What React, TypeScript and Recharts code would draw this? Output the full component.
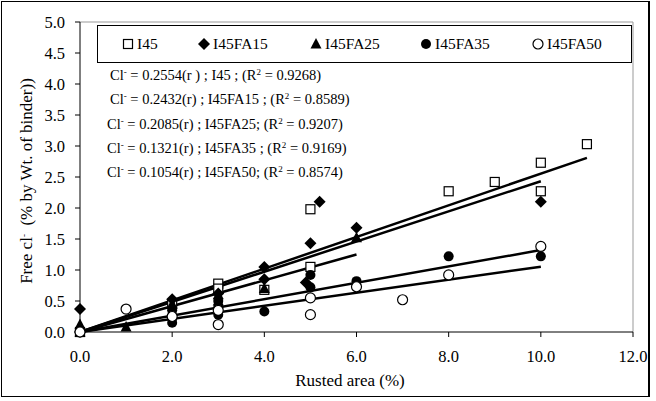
import React from "react";
import { ScatterChart, Scatter, XAxis, YAxis, ReferenceLine } from "recharts";

// series data (rusted area %, free chloride %)
const I45_X = [0, 2, 3, 3, 4, 5, 5, 8, 9, 10, 10, 11];
const I45_Y = [0, 0.45, 0.78, 0.7, 0.68, 1.98, 1.05, 2.27, 2.42, 2.73, 2.27, 3.03];

const FA15_X = [0, 0, 2, 3, 4, 4, 4.9, 5, 5.2, 6, 10];
const FA15_Y = [0.37, 0, 0.53, 0.62, 1.05, 0.85, 0.8, 1.43, 2.1, 1.68, 2.1];

const FA25_X = [0, 0, 1, 2, 2, 3, 3, 4, 6];
const FA25_Y = [0.12, 0, 0.08, 0.3, 0.45, 0.5, 0.6, 0.7, 1.52];

const FA35_X = [0, 2, 2, 2, 3, 3, 3, 4, 5, 5, 6, 8, 10];
const FA35_Y = [0, 0.15, 0.22, 0.35, 0.28, 0.4, 0.5, 0.33, 0.92, 0.72, 0.82, 1.22, 1.22];

const FA50_X = [0, 1, 2, 3, 3, 5, 5, 6, 7, 8, 10];
const FA50_Y = [0, 0.37, 0.25, 0.12, 0.35, 0.55, 0.28, 0.73, 0.52, 0.92, 1.38];

const SERIES_NAMES = ["I45", "I45FA15", "I45FA25", "I45FA35", "I45FA50"];
const SLOPES = [0.2554, 0.2432, 0.2085, 0.1321, 0.1054];
const FIT_END = [11, 10, 6, 10, 10];
const R2 = ["0.9268", "0.8589", "0.9207", "0.9169", "0.8574"];
const EQ_MID = [
  "(r ) ; I45 ; (R",
  "(r) ; I45FA15 ; (R",
  "(r) ; I45FA25; (R",
  "(r) ; I45FA35 ; (R",
  "(r) ; I45FA50; (R",
];

const X_TICKS = [0, 2, 4, 6, 8, 10, 12];
const Y_TICKS = [0, 0.5, 1, 1.5, 2, 2.5, 3, 3.5, 4, 4.5, 5];

const zip = (xs: number[], ys: number[]) => xs.map((x, i) => ({ x, y: ys[i] }));
const SERIES = [
  zip(I45_X, I45_Y),
  zip(FA15_X, FA15_Y),
  zip(FA25_X, FA25_Y),
  zip(FA35_X, FA35_Y),
  zip(FA50_X, FA50_Y),
];
const KINDS = ["square", "diamond", "triangle", "dot", "circle"];

const FONT = "Liberation Serif, DejaVu Serif, serif";

const Marker = ({ kind, cx, cy }: { kind: string; cx: number; cy: number }) => {
  if (kind === "square")
    return <rect x={cx - 4.5} y={cy - 4.5} width={9} height={9} fill="#fff" stroke="#000" strokeWidth={1.2} />;
  if (kind === "diamond")
    return <polygon points={`${cx},${cy - 6} ${cx + 6},${cy} ${cx},${cy + 6} ${cx - 6},${cy}`} fill="#000" />;
  if (kind === "triangle")
    return <polygon points={`${cx},${cy - 6} ${cx + 5.5},${cy + 4.5} ${cx - 5.5},${cy + 4.5}`} fill="#000" />;
  if (kind === "dot") return <circle cx={cx} cy={cy} r={5} fill="#000" />;
  return <circle cx={cx} cy={cy} r={5} fill="#fff" stroke="#000" strokeWidth={1.2} />;
};

// legend item left edges (page px)
const LEGEND_POS = [122, 198, 310, 420, 532];

export default function App() {
  const txt: React.CSSProperties = { position: "absolute", fontFamily: FONT, color: "#000", whiteSpace: "nowrap" };
  const sup: React.CSSProperties = { fontSize: 9, verticalAlign: 5, lineHeight: 0 };
  return (
    <div style={{ position: "absolute", left: 0, top: 0, width: 656, height: 401, background: "#fff" }}>
      <div style={{ position: "absolute", left: 1, top: 1, width: 646, height: 394, border: "1px solid #000", borderRightWidth: 2 }} />
      <div style={{ position: "absolute", left: 0, top: 0 }}>
        <ScatterChart width={656} height={401} margin={{ top: 22, right: 23, bottom: 0, left: 0 }}>
          <XAxis
            type="number"
            dataKey="x"
            domain={[0, 12]}
            ticks={X_TICKS}
            tickFormatter={(v: number) => v.toFixed(1)}
            tickSize={5}
            tickMargin={13}
            height={69}
            axisLine={{ stroke: "#000" }}
            tickLine={{ stroke: "#000" }}
            tick={{ fontFamily: FONT, fontSize: 16.5, fill: "#000" }}
          />
          <YAxis
            type="number"
            dataKey="y"
            domain={[0, 5]}
            ticks={Y_TICKS}
            tickFormatter={(v: number) => v.toFixed(1)}
            tickSize={5}
            tickMargin={10}
            width={80}
            axisLine={{ stroke: "#000" }}
            tickLine={{ stroke: "#000" }}
            tick={{ fontFamily: FONT, fontSize: 16.5, fill: "#000" }}
          />
          <ReferenceLine y={5} stroke="#999" />
          <ReferenceLine x={12} stroke="#999" />
          {SERIES.map((d, i) => (
            <Scatter
              key={SERIES_NAMES[i]}
              name={SERIES_NAMES[i]}
              data={d}
              isAnimationActive={false}
              shape={(p: any) => <Marker kind={KINDS[i]} cx={p.cx} cy={p.cy} />}
            />
          ))}
          {SLOPES.map((s, i) => (
            <ReferenceLine
              key={"fit" + i}
              segment={[{ x: 0, y: 0 }, { x: FIT_END[i], y: s * FIT_END[i] }]}
              stroke="#000"
              strokeWidth={2.5}
            />
          ))}
        </ScatterChart>
      </div>

      {/* legend box */}
      <div style={{ position: "absolute", left: 97, top: 25, width: 533, height: 36, border: "1px solid #000", background: "#fff" }}>
        {SERIES_NAMES.map((n, i) => (
          <div key={n} style={{ ...txt, left: LEGEND_POS[i] - 98, top: 8, fontSize: 15.5, lineHeight: "19px", display: "flex", alignItems: "center" }}>
            <svg width={13} height={12} style={{ marginRight: 2 }}>
              <Marker kind={KINDS[i]} cx={6} cy={6} />
            </svg>
            {n}
          </div>
        ))}
      </div>

      {/* regression equations */}
      {SLOPES.map((s, i) => (
        <div key={"eq" + i} style={{ ...txt, left: i < 2 ? 110 : 107, top: 66 + i * 24.3, fontSize: 14.5, lineHeight: "18px" }}>
          Cl<sup style={sup}>-</sup> = {s.toFixed(4)}
          {EQ_MID[i]}
          <sup style={sup}>2</sup> = {R2[i]})
        </div>
      ))}

      {/* axis titles */}
      <div style={{ ...txt, left: 350, top: 371, fontSize: 17, lineHeight: "20px", transform: "translateX(-50%)" }}>
        Rusted area (%)
      </div>
      <div
        style={{
          ...txt,
          left: 27,
          top: 181,
          fontSize: 17,
          lineHeight: "20px",
          transform: "translate(-50%, -50%) rotate(-90deg)",
        }}
      >
        Free cl<sup style={sup}>-</sup>&nbsp; (% by Wt. of binder))
      </div>
    </div>
  );
}
